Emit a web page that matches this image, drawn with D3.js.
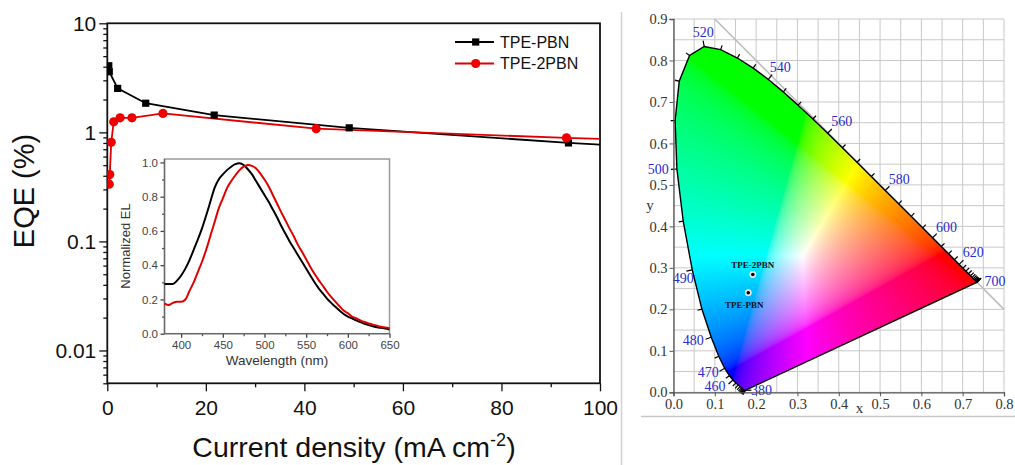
<!DOCTYPE html>
<html><head><meta charset="utf-8">
<script src="https://cdn.jsdelivr.net/npm/d3@7"></script>
<style>body{margin:0;background:#fff}svg{display:block}</style>
</head><body>
<svg id="c" width="1015" height="465"></svg>
<script>
// ---------------- Data ----------------
// EQE vs current density
const pbnJ   = [0.3, 0.4, 2.1, 7.8, 21.7, 49.1, 93.6, 130];
const pbnEQE = [4.08, 3.6, 2.53, 1.85, 1.44, 1.10, 0.80, 0.66];
const pbn2J   = [0.4, 0.5, 0.8, 1.3, 2.6, 5.0, 11.3, 42.4, 93.2, 130];
const pbn2EQE = [0.335, 0.41, 0.81, 1.25, 1.36, 1.36, 1.49, 1.08, 0.89, 0.79];
const seriesNames = ["TPE-PBN", "TPE-2PBN"];
const xTicks = [0, 20, 40, 60, 80, 100];
const yTicks = [0.01, 0.1, 1, 10];

// Inset: normalized EL spectra
const wl = [380,385,390,395,400,405,410,415,420,425,430,435,440,445,450,455,460,465,470,475,480,485,490,495,500,505,510,515,520,525,530,535,540,545,550,555,560,565,570,575,580,585,590,595,600,605,610,615,620,625,630,635,640,645,650];
const elPBN = [0.29,0.29,0.29,0.31,0.34,0.38,0.43,0.49,0.55,0.615,0.69,0.77,0.85,0.90,0.93,0.955,0.975,0.99,0.995,0.985,0.96,0.93,0.89,0.85,0.81,0.77,0.725,0.68,0.63,0.585,0.54,0.50,0.46,0.42,0.38,0.34,0.30,0.265,0.235,0.205,0.18,0.157,0.135,0.115,0.10,0.09,0.078,0.068,0.058,0.05,0.043,0.038,0.034,0.03,0.025];
const el2PBN = [0.177,0.167,0.18,0.187,0.187,0.20,0.25,0.30,0.36,0.42,0.49,0.57,0.65,0.73,0.79,0.85,0.89,0.925,0.955,0.975,0.985,0.98,0.965,0.935,0.90,0.86,0.81,0.76,0.71,0.663,0.615,0.57,0.52,0.478,0.435,0.39,0.35,0.313,0.28,0.245,0.215,0.187,0.16,0.135,0.12,0.10,0.09,0.078,0.068,0.06,0.053,0.047,0.04,0.037,0.032];
const insetXTicks = [400, 450, 500, 550, 600, 650];
const insetYTicks = [0.0, 0.2, 0.4, 0.6, 0.8, 1.0];

// CIE 1931 spectral locus [nm, x, y]
const locusNm = [380,385,390,395,400,405,410,415,420,425,430,435,440,445,450,455,460,465,470,475,480,485,490,495,500,505,510,515,520,525,530,535,540,545,550,555,560,565,570,575,580,585,590,595,600,605,610,615,620,625,630,635,640,645,650,655,660,665,670,675,680,685,690,695,700];
const locusX = [0.1741,0.1740,0.1738,0.1736,0.1733,0.1730,0.1726,0.1721,0.1714,0.1703,0.1689,0.1669,0.1644,0.1611,0.1566,0.1510,0.1440,0.1355,0.1241,0.1096,0.0913,0.0687,0.0454,0.0235,0.0082,0.0039,0.0139,0.0389,0.0743,0.1142,0.1547,0.1929,0.2296,0.2658,0.3016,0.3373,0.3731,0.4087,0.4441,0.4788,0.5125,0.5448,0.5752,0.6029,0.6270,0.6482,0.6658,0.6801,0.6915,0.7006,0.7079,0.7140,0.7190,0.7230,0.7260,0.7283,0.7300,0.7311,0.7320,0.7327,0.7334,0.7340,0.7344,0.7346,0.7347];
const locusY = [0.0050,0.0050,0.0049,0.0049,0.0048,0.0048,0.0048,0.0048,0.0051,0.0058,0.0069,0.0086,0.0109,0.0138,0.0177,0.0227,0.0297,0.0399,0.0578,0.0868,0.1327,0.2007,0.2950,0.4127,0.5384,0.6548,0.7502,0.8120,0.8338,0.8262,0.8059,0.7816,0.7543,0.7243,0.6923,0.6589,0.6245,0.5896,0.5547,0.5202,0.4866,0.4544,0.4242,0.3965,0.3725,0.3514,0.3340,0.3197,0.3083,0.2993,0.2920,0.2859,0.2809,0.2770,0.2740,0.2717,0.2700,0.2689,0.2680,0.2673,0.2666,0.2660,0.2656,0.2654,0.2653];
const labeledNm = [380,460,470,480,490,500,520,540,560,580,600,620,700];
const ciePointNames = ["TPE-2PBN", "TPE-PBN"];
const ciePointX = [0.192, 0.181];
const ciePointY = [0.284, 0.240];
const cieXTicks = [0,0.1,0.2,0.3,0.4,0.5,0.6,0.7,0.8];
const cieYTicks = [0,0.1,0.2,0.3,0.4,0.5,0.6,0.7,0.8,0.9];

// ---------------- Drawing ----------------
const svg = d3.select("#c");
const SANS = "'Liberation Sans', Arial, sans-serif";
const SERIF = "'Liberation Serif', 'Times New Roman', serif";
const defs = svg.append("defs");

// separators
svg.append("line").attr("x1",621.5).attr("x2",621.5).attr("y1",12).attr("y2",465).attr("stroke","#d2d2d2").attr("stroke-width",1.5);
svg.append("line").attr("x1",641).attr("x2",1015).attr("y1",416.5).attr("y2",416.5).attr("stroke","#c8c8c8").attr("stroke-width",1.5);

// ===== Main EQE plot =====
const x = d3.scaleLinear().domain([0,100]).range([107.3,600]);
const y = d3.scaleLog().domain([0.005,10]).range([383.3,23.3]);

defs.append("clipPath").attr("id","mainClip").append("rect")
  .attr("x",x(0)).attr("y",y(10)).attr("width",x(100)-x(0)).attr("height",y(0.005)-y(10));

function styleAxis(g, font, size, color){
  g.select(".domain").remove();
  g.selectAll("line").attr("stroke", color).attr("stroke-width",1.3);
  g.selectAll("text").style("font-family",font).style("font-size",size+"px").attr("fill",color);
}
const yMinor = [];
[0.001,0.01,0.1,1].forEach(d=>{ for(let k=2;k<=9;k++){ const v=d*k; if(v>=0.005 && v<10) yMinor.push(v);} });
svg.append("g").attr("transform",`translate(${x(0)},0)`)
  .call(d3.axisLeft(y).tickValues(yMinor).tickSize(4).tickFormat(""))
  .call(g=>styleAxis(g,SANS,21,"#111"));
svg.append("g").attr("transform",`translate(${x(0)},0)`)
  .call(d3.axisLeft(y).tickValues(yTicks).tickSize(8).tickPadding(3).tickFormat(d=>String(d)))
  .call(g=>styleAxis(g,SANS,21,"#111"));
svg.append("g").attr("transform",`translate(0,${y(0.005)})`)
  .call(d3.axisBottom(x).tickValues([10,30,50,70,90]).tickSize(4).tickFormat(""))
  .call(g=>styleAxis(g,SANS,21,"#111"));
svg.append("g").attr("transform",`translate(0,${y(0.005)})`)
  .call(d3.axisBottom(x).tickValues(xTicks).tickSize(8).tickPadding(9).tickFormat(d3.format("d")))
  .call(g=>styleAxis(g,SANS,21,"#111"));

svg.append("rect").attr("x",x(0)).attr("y",y(10)).attr("width",x(100)-x(0)).attr("height",y(0.005)-y(10))
  .attr("fill","none").attr("stroke","#111").attr("stroke-width",1.8);

const line = d3.line().x(d=>x(d[0])).y(d=>y(d[1]));
const s1 = pbnJ.map((v,i)=>[v,pbnEQE[i]]);
const s2 = pbn2J.map((v,i)=>[v,pbn2EQE[i]]);
const gm = svg.append("g").attr("clip-path","url(#mainClip)");
gm.append("path").attr("d",line(s1)).attr("fill","none").attr("stroke","#000").attr("stroke-width",1.8);
gm.append("path").attr("d",line(s2)).attr("fill","none").attr("stroke","#e00000").attr("stroke-width",1.8);
gm.selectAll(".sq").data(s1.filter(d=>d[0]<=100)).enter().append("rect")
  .attr("x",d=>x(d[0])-3.6).attr("y",d=>y(d[1])-3.6).attr("width",7.2).attr("height",7.2).attr("fill","#000");
gm.selectAll(".ci").data(s2.filter(d=>d[0]<=100)).enter().append("circle")
  .attr("cx",d=>x(d[0])).attr("cy",d=>y(d[1])).attr("r",4.6).attr("fill","#ee0000");

// legend
const lg = svg.append("g");
[[seriesNames[0],"#000",42,"sq"],[seriesNames[1],"#e00000",63.5,"ci"]].forEach(([name,col,ly,m])=>{
  lg.append("line").attr("x1",455).attr("x2",494).attr("y1",ly).attr("y2",ly).attr("stroke",col).attr("stroke-width",1.8);
  if(m==="sq") lg.append("rect").attr("x",475.7-3.6).attr("y",ly-3.6).attr("width",7.2).attr("height",7.2).attr("fill",col);
  else lg.append("circle").attr("cx",475.7).attr("cy",ly).attr("r",4.6).attr("fill","#ee0000");
  lg.append("text").attr("x",500).attr("y",ly+5.6).text(name).style("font-family",SANS).style("font-size","16px").attr("fill","#111");
});

// axis titles
svg.append("text").attr("transform","translate(33.5,191) rotate(-90)").attr("text-anchor","middle")
  .style("font-family",SANS).style("font-size","29px").attr("fill","#111").text("EQE (%)");
const xt = svg.append("text").attr("x",354).attr("y",457).attr("text-anchor","middle")
  .style("font-family",SANS).style("font-size","28.5px").attr("fill","#111");
xt.append("tspan").text("Current density (mA cm");
xt.append("tspan").attr("dy",-11).style("font-size","18px").text("-2");
xt.append("tspan").attr("dy",11).text(")");

// ===== Inset =====
const xi = d3.scaleLinear().domain([380,650]).range([164.5,389.5]);
const yi = d3.scaleLinear().domain([0,1.02]).range([333.7,159]);
svg.append("rect").attr("x",xi(380)).attr("y",yi(1.02)).attr("width",xi(650)-xi(380)).attr("height",yi(0)-yi(1.02))
  .attr("fill","#fff").attr("stroke","#999").attr("stroke-width",1.5);
svg.append("g").attr("transform",`translate(${xi(380)},0)`)
  .call(d3.axisLeft(yi).tickValues([0.1,0.3,0.5,0.7,0.9]).tickSize(2.5).tickFormat(""))
  .call(g=>styleAxis(g,SANS,11.5,"#555"));
svg.append("g").attr("transform",`translate(${xi(380)},0)`)
  .call(d3.axisLeft(yi).tickValues(insetYTicks).tickSize(4).tickPadding(2.5).tickFormat(d3.format(".1f")))
  .call(g=>styleAxis(g,SANS,11.5,"#444"));
svg.append("g").attr("transform",`translate(0,${yi(0)})`)
  .call(d3.axisBottom(xi).tickValues([425,475,525,575,625]).tickSize(2.5).tickFormat(""))
  .call(g=>styleAxis(g,SANS,11.5,"#555"));
svg.append("g").attr("transform",`translate(0,${yi(0)})`)
  .call(d3.axisBottom(xi).tickValues(insetXTicks).tickSize(4).tickPadding(3.5).tickFormat(d3.format("d")))
  .call(g=>styleAxis(g,SANS,11.5,"#444"));
svg.append("line").attr("x1",xi(380)).attr("x2",xi(380)).attr("y1",yi(0)).attr("y2",yi(1.02)).attr("stroke","#666").attr("stroke-width",1.3);
svg.append("line").attr("x1",xi(380)).attr("x2",xi(650)).attr("y1",yi(0)).attr("y2",yi(0)).attr("stroke","#666").attr("stroke-width",1.3);
const li = d3.line().x((d,i)=>xi(wl[i])).y(d=>yi(d)).curve(d3.curveMonotoneX);
svg.append("path").attr("d",li(elPBN)).attr("fill","none").attr("stroke","#000").attr("stroke-width",2);
svg.append("path").attr("d",li(el2PBN)).attr("fill","none").attr("stroke","#e00000").attr("stroke-width",2);
svg.append("text").attr("transform","translate(130,246) rotate(-90)").attr("text-anchor","middle")
  .style("font-family",SANS).style("font-size","13px").attr("fill","#333").text("Normalized EL");
svg.append("text").attr("x",277).attr("y",365).attr("text-anchor","middle")
  .style("font-family",SANS).style("font-size","13.5px").attr("fill","#333").text("Wavelength (nm)");

// ===== CIE diagram =====
const cx = d3.scaleLinear().domain([0,0.8]).range([673.5,1004]);
const cy = d3.scaleLinear().domain([0,0.9]).range([392.3,19]);
const gridC = "#c8c8c8";
const gridG = svg.append("g");
d3.range(0,17).map(i=>i*0.05).forEach(v=>{
  gridG.append("line").attr("x1",cx(v)).attr("x2",cx(v)).attr("y1",cy(0)).attr("y2",cy(0.9)).attr("stroke",gridC).attr("stroke-width",1);
});
d3.range(0,19).map(i=>i*0.05).forEach(v=>{
  gridG.append("line").attr("x1",cx(0)).attr("x2",cx(0.8)).attr("y1",cy(v)).attr("y2",cy(v)).attr("stroke",gridC).attr("stroke-width",1);
});
// x + y = 1 line
svg.append("line").attr("x1",cx(0.1)).attr("y1",cy(0.9)).attr("x2",cx(0.8)).attr("y2",cy(0.2))
  .attr("stroke","#bdbdbd").attr("stroke-width",1.6);

// gamut fill
const locus = locusNm.map((n,i)=>[n,locusX[i],locusY[i]]);
const locusPath = d3.line().x(d=>cx(d[1])).y(d=>cy(d[2]))(locus) + "Z";
defs.append("clipPath").attr("id","gamutClip").append("path").attr("d",locusPath);
(function(){
  const x0 = Math.floor(cx(0)), y0 = Math.floor(cy(0.9));
  const w = Math.ceil(cx(0.8)) - x0, h = Math.ceil(cy(0)) - y0;
  const cv = document.createElement("canvas"); cv.width=w; cv.height=h;
  const ctx = cv.getContext("2d"); const img = ctx.createImageData(w,h);
  const gam = v => v<=0.0031308 ? 12.92*v : 1.055*Math.pow(v,1/2.4)-0.055;
  for(let j=0;j<h;j++){
    const yy = Math.max(cy.invert(y0+j+0.5), 0.002);
    for(let i=0;i<w;i++){
      const xx = cx.invert(x0+i+0.5);
      const X = xx/yy, Y = 1, Z = (1-xx-yy)/yy;
      let r = 3.2406*X-1.5372*Y-0.4986*Z, g = -0.9689*X+1.8758*Y+0.0415*Z, b = 0.0557*X-0.2040*Y+1.0570*Z;
      r=Math.max(r,0); g=Math.max(g,0); b=Math.max(b,0);
      const m = Math.max(r,g,b,1e-6);
      const k = 4*(j*w+i);
      img.data[k]=gam(r/m)*255; img.data[k+1]=gam(g/m)*255; img.data[k+2]=gam(b/m)*255; img.data[k+3]=255;
    }
  }
  ctx.putImageData(img,0,0);
  svg.append("image").attr("x",x0).attr("y",y0).attr("width",w).attr("height",h)
    .attr("href",cv.toDataURL()).attr("clip-path","url(#gamutClip)").attr("preserveAspectRatio","none");
})();
svg.append("path").attr("d",locusPath).attr("fill","none").attr("stroke","#000").attr("stroke-width",1.4);

// wavelength ticks
const pts = locus.map(d=>[cx(d[1]),cy(d[2])]);
function normalAt(i){
  for(let k=1;k<12;k++){
    const a = pts[Math.max(0,i-k)], b = pts[Math.min(pts.length-1,i+k)];
    const tx=b[0]-a[0], ty=b[1]-a[1], L=Math.hypot(tx,ty);
    if(L>4) return [ty/L,-tx/L];
  }
  return [1,0];
}
const tg = svg.append("g");
locus.forEach((d,i)=>{
  const n = normalAt(i), p = pts[i];
  const len = labeledNm.includes(d[0]) ? 6 : 4.5;
  tg.append("line").attr("x1",p[0]).attr("y1",p[1]).attr("x2",p[0]+n[0]*len).attr("y2",p[1]+n[1]*len)
    .attr("stroke","#000").attr("stroke-width",1.2);
});
const labelNudge = {380:[16,0],460:[-18,6],470:[-16.5,3.4],480:[-18,3],490:[-9,8],500:[-18.6,0],520:[-1,-14],540:[12,-12],560:[14,-12.6],580:[14,-11.5],600:[14,-11],620:[14,-12],700:[18,-1]};
labeledNm.forEach(nm=>{
  const i = locusNm.indexOf(nm), p = pts[i], o = labelNudge[nm];
  svg.append("text").attr("x",p[0]+o[0]).attr("y",p[1]+o[1]).attr("dy","0.35em").attr("text-anchor","middle")
    .style("font-family",SERIF).style("font-size","14px").attr("fill","#2a2ad0").text(nm);
});

// CIE axes
svg.append("g").attr("transform",`translate(${cx(0)},0)`)
  .call(d3.axisLeft(cy).tickValues(cieYTicks).tickSize(4).tickPadding(2).tickFormat(d3.format(".1f")))
  .call(g=>{ g.select(".domain").attr("stroke","#555").attr("stroke-width",1.3); g.selectAll("line").attr("stroke","#555");
    g.selectAll("text").style("font-family",SERIF).style("font-size","14.5px").attr("fill","#333"); });
svg.append("g").attr("transform",`translate(0,${cy(0)})`)
  .call(d3.axisBottom(cx).tickValues(cieXTicks).tickSize(4).tickPadding(2.5).tickFormat(d3.format(".1f")))
  .call(g=>{ g.select(".domain").attr("stroke","#555").attr("stroke-width",1.3); g.selectAll("line").attr("stroke","#555");
    g.selectAll("text").style("font-family",SERIF).style("font-size","14.5px").attr("fill","#333"); });
svg.append("text").attr("x",cx(0.45)).attr("y",413).attr("text-anchor","middle")
  .style("font-family",SERIF).style("font-size","15px").attr("fill","#333").text("x");
svg.append("text").attr("x",650).attr("y",cy(0.45)+4).attr("text-anchor","middle")
  .style("font-family",SERIF).style("font-size","15px").attr("fill","#333").text("y");

// CIE points
ciePointNames.forEach((name,i)=>{
  const px = cx(ciePointX[i]), py = cy(ciePointY[i]);
  svg.append("circle").attr("cx",px).attr("cy",py).attr("r",3.4).attr("fill","#e8e8e8");
  svg.append("circle").attr("cx",px).attr("cy",py).attr("r",1.8).attr("fill","#000");
  const above = i===0;
  svg.append("text").attr("x", above ? px : px-4).attr("y", above ? py-7 : py+15).attr("text-anchor","middle")
    .style("font-family",SERIF).style("font-size","9px").style("font-weight","bold").attr("fill","#112").text(name);
});
</script>
</body></html>
